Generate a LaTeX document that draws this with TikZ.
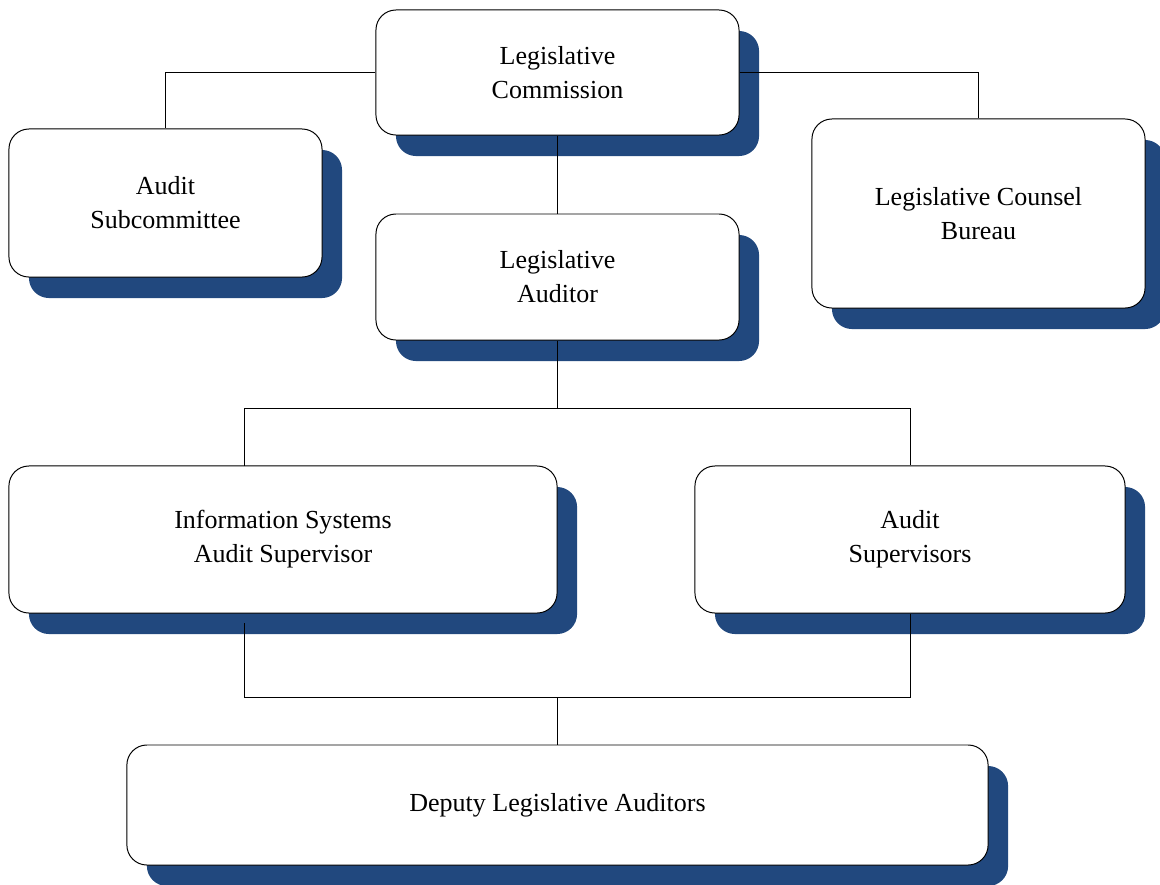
\documentclass[tikz,border=0pt]{standalone}
\usepackage{fontspec}
\setmainfont{Liberation Serif}
\usetikzlibrary{shadows}
\definecolor{shadeblue}{RGB}{33,72,126}

\begin{document}
\begin{tikzpicture}[x=0.025cm,y=-0.025cm,line width=0.7pt,
  org box/.style={rectangle,rounded corners=0.5cm,draw=black,fill=white,inner sep=0pt,align=center,
    font=\fontsize{18.5}{24.2}\selectfont,
    general shadow={fill=shadeblue,shadow xshift=0.5cm,shadow yshift=-0.525cm}},
  link/.style={draw=black,line width=0.6pt}]
  \useasboundingbox (0,0) rectangle (1160,884);

  \node[org box,minimum width=9.075cm,minimum height=3.125cm] (comm) at (557.5,72.5) {Legislative\\Commission};
  \node[org box,minimum width=7.825cm,minimum height=3.7cm] (sub) at (165.5,203) {Audit\\Subcommittee};
  \node[org box,minimum width=8.325cm,minimum height=4.725cm] (counsel) at (978.5,213.5) {Legislative Counsel\\Bureau};
  \node[org box,minimum width=9.075cm,minimum height=3.15cm] (auditor) at (557.5,277) {Legislative\\Auditor};
  \node[org box,minimum width=13.7cm,minimum height=3.675cm] (is) at (283,539.5) {Information Systems\\Audit Supervisor};
  \node[org box,minimum width=10.75cm,minimum height=3.675cm] (sup) at (910,539.5) {Audit\\Supervisors};
  \node[org box,minimum width=21.525cm,minimum height=3cm] (deputy) at (557.5,805) {Deputy Legislative Auditors};

  \coordinate (split) at (557.5,408);
  \coordinate (join) at (557.5,697);
  \coordinate (isTop) at (244,466);
  \coordinate (isBot) at (244,623);

  \path[link]
    (comm.west) -| (sub.north)
    (comm.east) -| (counsel.north)
    (comm.south) -- (auditor.north)
    (auditor.south) -- (split) -| (isTop)
    (split) -| (sup.north)
    (isBot) |- (join) -| (sup.south)
    (join) -- (deputy.north);
\end{tikzpicture}
\end{document}
